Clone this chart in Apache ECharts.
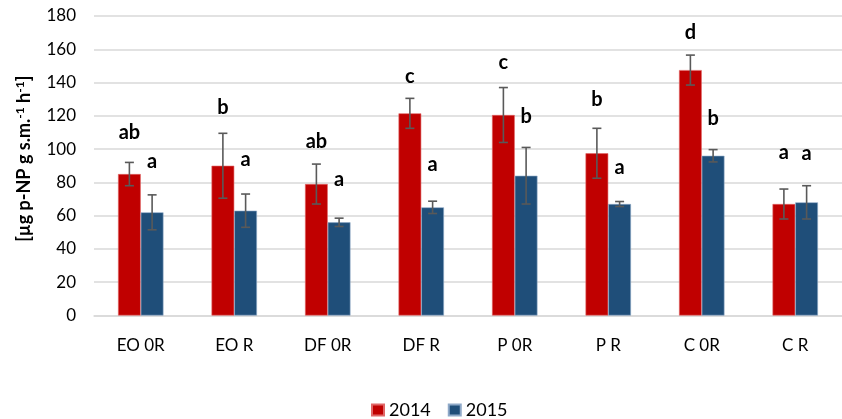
<!DOCTYPE html>
<html>
<head>
<meta charset="utf-8">
<script src="https://cdn.jsdelivr.net/npm/echarts@6/dist/echarts.min.js"></script>
<style>
  html, body { margin: 0; padding: 0; background: #fff; }
  #chart { width: 842px; height: 419px; }
</style>
</head>
<body>
<div id="chart"></div>
<script>
// Treatments on the category axis
const categories = ['EO 0R', 'EO R', 'DF 0R', 'DF R', 'P 0R', 'P R', 'C 0R', 'C R'];
// Mean activity per year
const values2014 = [85, 90, 79, 121.5, 120.5, 97.5, 147.5, 67];
const values2015 = [62, 63, 56, 65, 84, 67, 96, 68];
// Standard deviations (error bar half-lengths)
const err2014 = [7, 19.5, 12, 9, 16.5, 15, 9, 9];
const err2015 = [10.5, 10, 2.5, 3.7, 17, 1.5, 3.7, 10];
// Significance letters and the height (axis units) at which each sits
const letters2014 = ['ab', 'b', 'ab', 'c', 'c', 'b', 'd', 'a'];
const letters2015 = ['a', 'a', 'a', 'a', 'b', 'a', 'b', 'a'];
const letterY2014 = [109.7, 124.7, 104.6, 143.8, 152.2, 129.7, 170.3, 98];
const letterY2015 = [92.6, 94, 82, 90.6, 119.7, 89, 118.1, 97.2];
// Value axis ticks
const yMin = 0, yMax = 180, yStep = 20;

const FONT = 'Lato, "Open Sans", sans-serif';
const BAR_FRAC = 0.243; // bar width as share of a category band

function errorRenderer(errs, letters, letterY, side) {
  return function (params, api) {
    const i = api.value(0);
    const v = api.value(1);
    const e = errs[i];
    const band = api.size([1, 0])[0];
    const x = api.coord([i, 0])[0] + side * band * BAR_FRAC / 2;
    const yHi = api.coord([i, v + e])[1];
    const yLo = api.coord([i, v - e])[1];
    const yTxt = api.coord([i, letterY[i]])[1];
    const cap = 4.5;
    const ls = { stroke: '#595959', lineWidth: 1.6 };
    return {
      type: 'group',
      children: [
        { type: 'line', shape: { x1: x, y1: yHi, x2: x, y2: yLo }, style: ls },
        { type: 'line', shape: { x1: x - cap, y1: yHi, x2: x + cap, y2: yHi }, style: ls },
        { type: 'line', shape: { x1: x - cap, y1: yLo, x2: x + cap, y2: yLo }, style: ls },
        {
          type: 'text',
          style: {
            x: x, y: yTxt, text: letters[i],
            align: 'center', verticalAlign: 'middle',
            font: 'bold 20px ' + FONT, fill: '#000'
          }
        }
      ]
    };
  };
}

const chart = echarts.init(document.getElementById('chart'), null, { renderer: 'canvas' });
chart.setOption({
  animation: false,
  backgroundColor: '#fff',
  grid: { left: 94, right: -9, top: 16, bottom: 103.5, containLabel: false },
  legend: {
    data: ['2014', '2015'],
    top: 396,
    left: 366,
    icon: 'rect',
    itemWidth: 12,
    itemHeight: 11,
    itemGap: 17,
    textStyle: { fontFamily: FONT, fontSize: 18, color: '#000' }
  },
  xAxis: {
    type: 'category',
    data: categories,
    axisLine: { lineStyle: { color: '#d9d9d9', width: 1.5 } },
    axisTick: { show: false },
    axisLabel: { fontFamily: FONT, fontSize: 17, color: '#000', margin: 22 }
  },
  yAxis: {
    type: 'value',
    min: yMin, max: yMax, interval: yStep,
    name: '[µg p-NP g s.m.{sup|-1} h{sup|-1}]',
    nameLocation: 'middle',
    nameRotate: 90,
    nameGap: 60,
    nameTextStyle: {
      fontFamily: FONT, fontSize: 18, fontWeight: 'bold', color: '#000',
      padding: [0, 0, 0, 14],
      rich: { sup: { fontFamily: FONT, fontSize: 12, fontWeight: 'bold', verticalAlign: 'top', padding: [0, 0, 8, 0] } }
    },
    axisLine: { show: false },
    axisTick: { show: false },
    axisLabel: { fontFamily: FONT, fontSize: 17, color: '#000', margin: 18 },
    splitLine: { lineStyle: { color: '#d9d9d9', width: 1.5 } }
  },
  series: [
    {
      name: '2014', type: 'bar', data: values2014,
      barWidth: (BAR_FRAC * 100) + '%', barGap: '0%',
      itemStyle: { color: '#C00000', borderColor: '#e06666', borderWidth: 0.6 }
    },
    {
      name: '2015', type: 'bar', data: values2015,
      barWidth: (BAR_FRAC * 100) + '%', barGap: '0%',
      itemStyle: { color: '#1F4E79', borderColor: '#8fa9c8', borderWidth: 0.6 }
    },
    {
      type: 'custom', z: 5,
      data: values2014.map((v, i) => [i, v]),
      encode: { x: 0, y: 1 },
      renderItem: errorRenderer(err2014, letters2014, letterY2014, -1)
    },
    {
      type: 'custom', z: 5,
      data: values2015.map((v, i) => [i, v]),
      encode: { x: 0, y: 1 },
      renderItem: errorRenderer(err2015, letters2015, letterY2015, 1)
    }
  ]
});
</script>
</body>
</html>
